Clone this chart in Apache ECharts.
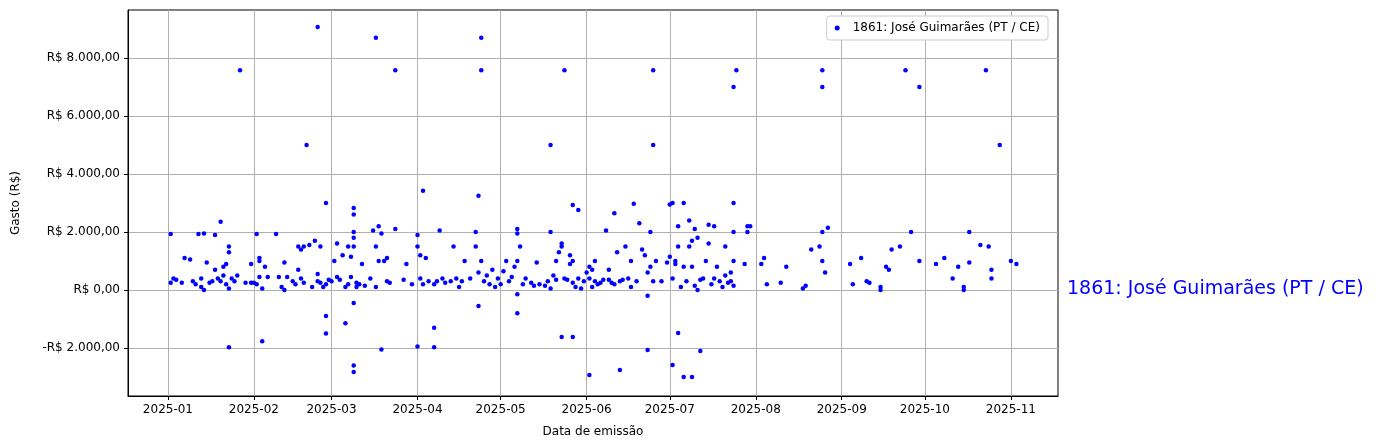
<!DOCTYPE html>
<html><head><meta charset="utf-8">
<script src="https://cdn.jsdelivr.net/npm/echarts@6/dist/echarts.min.js"></script>
<style>html,body{margin:0;padding:0;background:#fff}#c{width:1380px;height:448px}</style>
</head><body><div id="c"></div>
<script>
const seriesName = '1861: José Guimarães (PT / CE)';
const xTickLabels = ['2025-01','2025-02','2025-03','2025-04','2025-05','2025-06','2025-07','2025-08','2025-09','2025-10','2025-11'];
const yTicks = [-2000,0,2000,4000,6000,8000];
const dates = [
'01-02','01-02','01-03','01-04','01-06','01-07','01-09','01-10','01-11','01-12','01-13','01-13','01-14','01-14','01-15','01-16','01-17','01-18','01-18','01-19','01-20','01-20','01-21','01-21','01-22','01-22','01-23','01-23','01-23','01-24','01-25','01-26','01-29','01-31','01-31','01-27','01-23',
'02-01','02-02','02-02','02-03','02-03','02-03','02-04','02-05','02-06','02-09','02-10','02-11','02-12','02-12','02-13','02-15','02-16','02-17','02-17','02-18','02-18','02-19','02-19','02-21','02-22','02-23','02-24','02-24','02-25','02-25','02-26','02-27','02-28','02-04','02-20','02-24','02-27','02-27','02-27',
'03-01','03-02','03-03','03-03','03-04','03-05','03-06','03-07','03-07','03-08','03-08','03-09','03-09','03-09','03-10','03-10','03-11','03-12','03-13','03-15','03-16','03-17','03-17','03-18','03-18','03-19','03-20','03-21','03-21','03-22','03-24','03-27','03-28','03-30','03-17','03-24','03-09','03-09','03-09','03-09','03-09','03-06','03-19',
'04-01','04-01','04-02','04-02','04-03','04-04','04-05','04-07','04-08','04-09','04-10','04-11','04-13','04-14','04-15','04-16','04-17','04-18','04-20','04-22','04-22','04-23','04-24','04-25','04-26','04-27','04-28','04-29','04-30','04-01','04-03','04-07','04-07','04-23','04-24','04-24','04-23',
'05-01','05-02','05-03','05-04','05-05','05-06','05-07','05-07','05-07','05-08','05-09','05-10','05-12','05-13','05-14','05-15','05-17','05-18','05-19','05-19','05-20','05-21','05-21','05-22','05-23','05-23','05-24','05-25','05-26','05-26','05-27','05-27','05-28','05-29','05-30','05-31','05-07','05-07','05-19','05-24','05-23','05-27','05-27','05-29',
'06-01','06-02','06-02','06-03','06-03','06-04','06-04','06-05','06-06','06-07','06-08','06-09','06-09','06-10','06-11','06-12','06-13','06-14','06-15','06-16','06-17','06-17','06-19','06-20','06-21','06-22','06-23','06-24','06-24','06-25','06-26','06-28','06-30','06-02','06-13','06-23','06-25','06-25','06-23','06-18','06-11',
'07-01','07-01','07-02','07-03','07-03','07-04','07-04','07-05','07-06','07-07','07-08','07-08','07-09','07-09','07-10','07-10','07-11','07-11','07-12','07-13','07-14','07-15','07-15','07-16','07-17','07-17','07-18','07-19','07-20','07-21','07-21','07-22','07-23','07-23','07-24','07-24','07-24','07-28','07-29','07-29','07-30','07-02','07-04','07-06','07-09','07-12','07-24','07-25','07-24','07-06','07-02',
'08-03','08-04','08-05','08-10','08-12','08-18','08-19','08-21','08-24','08-25','08-25','08-26','08-27','08-25','08-25',
'09-04','09-05','09-08','09-10','09-11','09-15','09-15','09-17','09-18','09-19','09-22','09-26','09-29','09-24','09-29',
'10-05','10-08','10-11','10-13','10-15','10-15','10-17','10-17','10-21','10-24','10-25','10-25','11-01','11-03','10-23','10-28'
];
const values = [
250,1930,400,350,250,1100,1050,300,200,1930,100,400,0,1950,950,250,300,1900,700,400,300,2350,800,500,200,900,1300,1500,50,400,300,500,250,900,250,7580,-1970,
250,1930,200,1100,1000,450,50,800,450,1930,450,100,950,0,450,300,200,700,1500,400,1400,250,1500,1550,100,1700,300,550,250,1500,100,200,350,-1770,5000,9070,3000,-900,-1500,
300,1000,1600,450,350,1200,100,200,1500,450,1150,2000,1800,1500,250,100,200,900,150,400,2050,100,1500,2200,1000,1950,1000,1100,300,250,2100,350,900,200,8700,7580,2830,2600,-2600,-2830,-450,-1150,-2050,
1900,1500,1200,400,200,1100,300,200,300,2050,400,250,300,1500,400,100,300,1000,400,2000,1500,600,1000,300,500,200,700,100,400,-1950,3420,-1970,-1300,3250,8700,7580,-550,
200,650,1000,300,450,800,1950,2100,1000,1500,200,400,250,150,950,200,150,300,50,2000,500,1000,350,1300,1500,1600,400,350,900,1200,1000,250,100,400,50,300,-800,-150,5000,7580,-1620,-1620,2930,2760,
600,800,400,100,700,300,1000,200,250,350,2050,700,350,250,200,1300,300,350,1500,400,1000,100,300,2300,1400,1200,600,2000,800,300,1000,300,950,-2930,-2760,-2070,5000,7580,-200,2970,2650,
1150,2950,400,1000,900,1500,2200,100,800,300,1500,2400,1700,800,2100,150,1800,0,350,400,1000,2250,1600,200,2200,400,800,300,100,1500,500,250,600,300,150,1000,2000,900,2000,2200,2200,-2590,-1480,-3000,-3000,-2100,7000,7580,3000,3000,3000,
900,1100,200,250,800,50,150,1400,1500,1000,2000,600,2150,7580,7000,
900,200,1100,300,250,100,0,800,700,1400,1500,2000,1000,7580,7000,
900,1100,400,800,100,0,950,2000,1550,1500,700,400,1000,900,7580,5000
];
const ts = s => Date.UTC(+s.slice(0,4), +s.slice(5,7)-1, +s.slice(8,10));
const data = dates.map((d,i)=>[ts('2025-'+d), values[i]]);
const xTickValues = xTickLabels.map(s=>ts(s+'-01'));
const DAY = 86400000;
function brl(v){const a=Math.abs(v);const s=a.toFixed(0).replace(/\B(?=(\d{3})+(?!\d))/g,'.');return (v<0?'-':'')+'R$ '+s+',00';}
const chart = echarts.init(document.getElementById('c'));
chart.setOption({
  animation:false,
  textStyle:{fontFamily:'DejaVu Sans'},
  grid:{left:128,right:322,top:10,bottom:52,show:true,borderColor:'#000',borderWidth:1},
  legend:{right:332,top:16,orient:'vertical',backgroundColor:'#fff',borderColor:'#ccc',borderWidth:1,borderRadius:3,padding:[6,8],itemWidth:5,itemHeight:5,itemGap:10,icon:'circle',textStyle:{fontSize:12,color:'#000',padding:[0,0,0,8]},data:[seriesName]},
  xAxis:{type:'value',min:ts('2025-01-01')-14.4*DAY,max:ts('2025-01-01')+321*DAY,
    axisLine:{show:true,onZero:false,lineStyle:{color:'#000'}},axisTick:{show:true,inside:false,length:4,lineStyle:{color:'#000'},customValues:xTickValues},
    axisLabel:{customValues:xTickValues,color:'#000',fontSize:12,margin:8,formatter:v=>{const d=new Date(v);return d.getUTCFullYear()+'-'+String(d.getUTCMonth()+1).padStart(2,'0');}},
    splitLine:{show:true,lineStyle:{color:'#b0b0b0',width:1}},
    name:'Data de emissão',nameLocation:'middle',nameGap:30,nameTextStyle:{color:'#000',fontSize:12}},
  yAxis:{type:'value',min:-3655,max:9655,
    axisLine:{show:true,onZero:false,lineStyle:{color:'#000'}},axisTick:{show:true,inside:false,length:4,lineStyle:{color:'#000'},customValues:yTicks},
    axisLabel:{customValues:yTicks,color:'#000',fontSize:12,formatter:brl},
    splitLine:{show:true,lineStyle:{color:'#b0b0b0',width:1}},
    name:'Gasto (R$)',nameLocation:'middle',nameGap:106,nameTextStyle:{color:'#000',fontSize:12}},
  series:[{name:seriesName,type:'scatter',symbolSize:4.5,itemStyle:{color:'#0000ff',opacity:1},data:data}],
  graphic:[{type:'text',left:1067,top:280,style:{text:seriesName,fill:'#0000ff',fontSize:19,fontFamily:'DejaVu Sans'}}]
});
</script></body></html>
